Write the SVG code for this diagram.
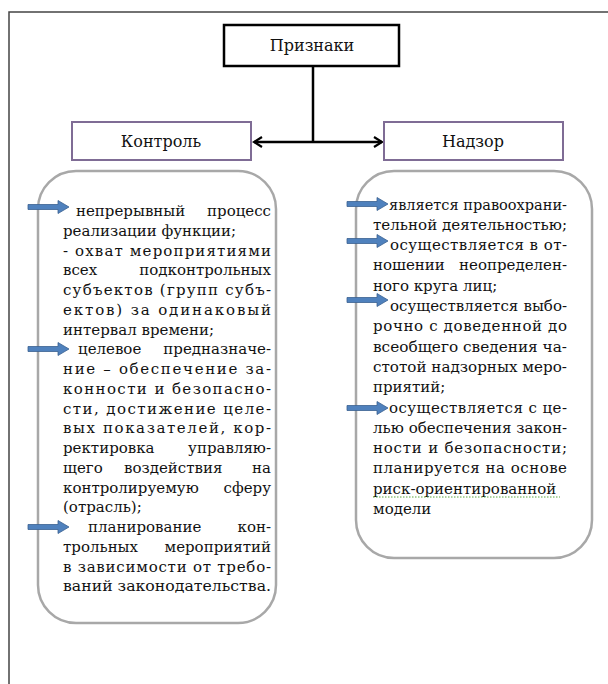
<svg xmlns="http://www.w3.org/2000/svg" width="608" height="684" viewBox="0 0 608 684">
<style>
.frame{fill:none;stroke:#444;stroke-width:1.5}
.head{fill:#fff;stroke:#000;stroke-width:2.5}
.cat{fill:#fff;stroke:#7f6c95;stroke-width:2}
.panel{fill:#fff;stroke:#a8a8a8;stroke-width:2.5}
.conn{fill:none;stroke:#000;stroke-width:2.5}
.lbl{font-family:"DejaVu Serif","Liberation Serif",serif;font-size:16px;fill:#111;text-anchor:middle}
.t{font-family:"DejaVu Serif","Liberation Serif",serif;font-size:15px;fill:#111}
.e{text-anchor:end}
.ba{fill:#4f81bd;stroke:#3a6190;stroke-width:0.8}
</style>
<defs>
<marker id="chev" viewBox="0 0 12 12" refX="10" refY="6" markerWidth="12" markerHeight="12" markerUnits="userSpaceOnUse" orient="auto-start-reverse">
<path d="M2,1 L10,6 L2,11" fill="none" stroke="#000" stroke-width="2.2"/>
</marker>
<path id="barrow" d="M0,-2.5 H30 V-6.5 L41,0 L30,6.5 V2.5 H0 Z"/>
</defs>

<path class="frame" d="M9,684 V12 H608"/>

<g id="connectors">
<line class="conn" x1="313" y1="66" x2="313" y2="142"/>
<line class="conn" x1="254" y1="142" x2="382" y2="142" marker-start="url(#chev)" marker-end="url(#chev)"/>
</g>

<g id="priznaki">
<rect class="head" x="224" y="25" width="175" height="41"/>
<text class="lbl" x="312" y="51">Признаки</text>
</g>

<g id="kontrol">
<rect class="cat" x="72" y="122" width="179" height="38"/>
<text class="lbl" x="161" y="147">Контроль</text>
</g>

<g id="nadzor">
<rect class="cat" x="384" y="122" width="179" height="38"/>
<text class="lbl" x="473" y="147">Надзор</text>
</g>

<g id="kontrol-list">
<rect class="panel" x="38" y="171" width="238" height="452" rx="38"/>
<use href="#barrow" class="ba" x="28" y="207"/>
<use href="#barrow" class="ba" x="28" y="349"/>
<use href="#barrow" class="ba" x="28" y="527"/>
<g class="t">
<text x="76" y="216">непрерывный</text><text class="e" x="271" y="216">процесс</text>
<text x="63" y="235.8">реализации функции;</text>
<text x="63" y="255.5" textLength="208" lengthAdjust="spacing">- охват мероприятиями</text>
<text x="63" y="275.3">всех</text><text class="e" x="271" y="275.3">подконтрольных</text>
<text x="63" y="295" textLength="208" lengthAdjust="spacing">субъектов (групп субъ-</text>
<text x="63" y="314.8" textLength="208" lengthAdjust="spacing">ектов) за одинаковый</text>
<text x="63" y="334.5">интервал времени;</text>
<text x="78" y="354.3">целевое</text><text class="e" x="271" y="354.3">предназначе-</text>
<text x="63" y="374" textLength="208" lengthAdjust="spacing">ние – обеспечение за-</text>
<text x="63" y="393.8" textLength="208" lengthAdjust="spacing">конности и безопасно-</text>
<text x="63" y="413.5" textLength="208" lengthAdjust="spacing">сти, достижение целе-</text>
<text x="63" y="433.3" textLength="208" lengthAdjust="spacing">вых показателей, кор-</text>
<text x="63" y="453">ректировка</text><text class="e" x="271" y="453">управляю-</text>
<text x="63" y="472.8">щего</text><text x="124" y="472.8">воздействия</text><text class="e" x="271" y="472.8">на</text>
<text x="63" y="492.5">контролируемую</text><text class="e" x="271" y="492.5">сферу</text>
<text x="63" y="512.3">(отрасль);</text>
<text x="88" y="532">планирование</text><text class="e" x="271" y="532">кон-</text>
<text x="63" y="551.8">трольных</text><text class="e" x="271" y="551.8">мероприятий</text>
<text x="63" y="571.5" textLength="208" lengthAdjust="spacing">в зависимости от требо-</text>
<text x="63" y="591.3" textLength="208" lengthAdjust="spacingAndGlyphs">ваний законодательства.</text>
</g>
</g>

<g id="nadzor-list">
<rect class="panel" x="356" y="171" width="236" height="387" rx="38"/>
<use href="#barrow" class="ba" x="347" y="204"/>
<use href="#barrow" class="ba" x="347" y="241"/>
<use href="#barrow" class="ba" x="347" y="300"/>
<use href="#barrow" class="ba" x="347" y="408"/>
<g class="t">
<text x="389" y="209.5" textLength="178" lengthAdjust="spacingAndGlyphs">является правоохрани-</text>
<text x="373" y="229.8" textLength="194" lengthAdjust="spacingAndGlyphs">тельной деятельностью;</text>
<text x="390" y="250.1" textLength="177" lengthAdjust="spacing">осуществляется в от-</text>
<text x="373" y="270.4">ношении</text><text class="e" x="567" y="270.4">неопределен-</text>
<text x="373" y="290.7">ного круга лиц;</text>
<text x="390" y="311">осуществляется</text><text class="e" x="567" y="311">выбо-</text>
<text x="373" y="331.3" textLength="194" lengthAdjust="spacing">рочно с доведенной до</text>
<text x="373" y="351.6" textLength="194" lengthAdjust="spacingAndGlyphs">всеобщего сведения ча-</text>
<text x="373" y="371.9" textLength="194" lengthAdjust="spacingAndGlyphs">стотой надзорных меро-</text>
<text x="373" y="392.2">приятий;</text>
<text x="389" y="412.5" textLength="178" lengthAdjust="spacing">осуществляется с це-</text>
<text x="373" y="432.8" textLength="194" lengthAdjust="spacingAndGlyphs">лью обеспечения закон-</text>
<text x="373" y="453.1" textLength="194" lengthAdjust="spacing">ности и безопасности;</text>
<text x="373" y="473.4" textLength="194" lengthAdjust="spacing">планируется на основе</text>
<text x="373" y="493.7">риск-ориентированной</text>
<text x="373" y="514">модели</text>
</g>
<path d="M373,497 H560" fill="none" stroke="#5aa53c" stroke-width="1" stroke-dasharray="1.5 1.5"/>
</g>
</svg>
